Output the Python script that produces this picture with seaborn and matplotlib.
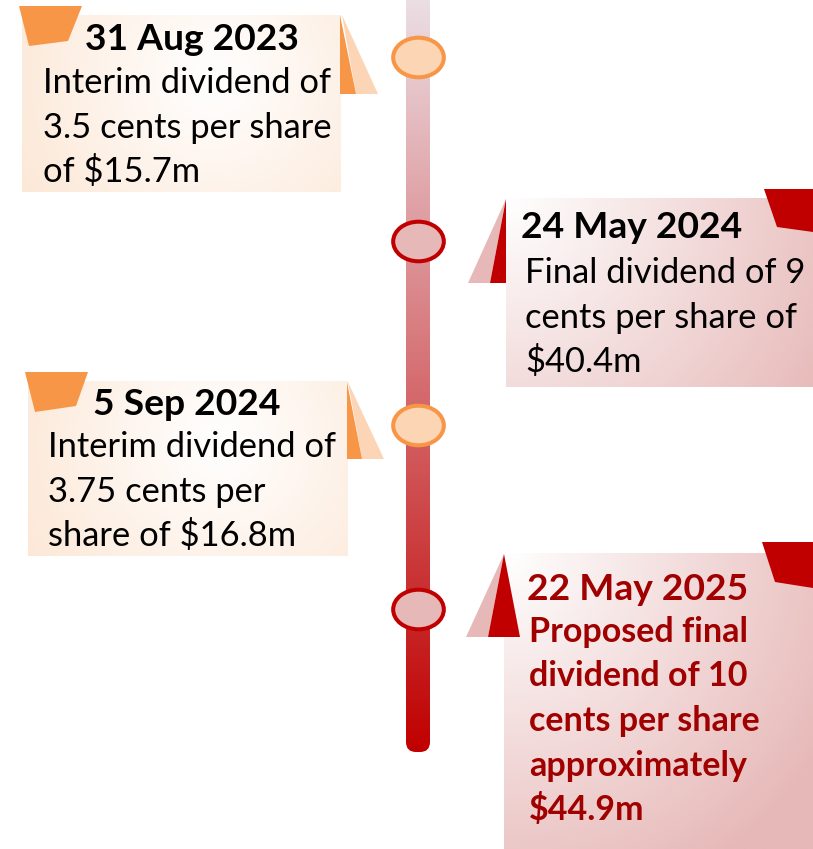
import numpy as np
import pandas as pd
import matplotlib
matplotlib.use("Agg")
import matplotlib.pyplot as plt
from matplotlib.path import Path
from matplotlib.transforms import Affine2D
from matplotlib.patches import Polygon, FancyBboxPatch
import seaborn as sns

# ---------------- data ----------------
dates = ["31 Aug 2023", "24 May 2024", "5 Sep 2024", "22 May 2025"]
kinds = ["interim", "final", "interim", "final"]
body_lines = [
    ["Interim dividend of", "3.5 cents per share", "of $15.7m"],
    ["Final dividend of 9", "cents per share of", "$40.4m"],
    ["Interim dividend of", "3.75 cents per", "share of $16.8m"],
    ["Proposed final", "dividend of 10", "cents per share", "approximately", "$44.9m"],
]
events = pd.DataFrame({"date": dates, "kind": kinds, "order": range(len(dates))})

# ---------------- style ----------------
sns.set_theme(style="white")
plt.rcParams["font.family"] = ["Lato", "DejaVu Sans"]

W, H = 813, 849
fig = plt.figure(figsize=(W / 100, H / 100), dpi=100)
ax = fig.add_axes([0, 0, 1, 1])
ax.set_xlim(0, W)
ax.set_ylim(H, 0)
ax.axis("off")

ORANGE = "#f79646"
ORANGE_LIGHT = "#fbd5b5"
ORANGE_FACE = "#fcd5b4"
RED = "#c00000"
RED_LIGHT = "#e6b9b8"
DARK_RED = "#a00000"

# ---------------- timeline bar ----------------
bar_x0, bar_x1, bar_bot = 406, 430, 752
n = 256
top_c = np.array([236, 228, 234]) / 255
bot_c = np.array([192, 0, 0]) / 255
t = np.linspace(0, 1, n)[:, None]
grad = (top_c * (1 - t) + bot_c * t)[:, None, :]
im = ax.imshow(grad, extent=[bar_x0, bar_x1, bar_bot, -20], aspect="auto",
               interpolation="bilinear", zorder=1)
clip = FancyBboxPatch((bar_x0, -40), bar_x1 - bar_x0, bar_bot + 40,
                      boxstyle="round,pad=0,rounding_size=10",
                      transform=ax.transData, facecolor="none", edgecolor="none")
ax.add_patch(clip)
im.set_clip_path(clip)


# ---------------- boxes ----------------
def gradient_box(x0, y0, x1, y1, edge_rgb, center, radius, z=2):
    ny, nx = 120, 160
    yy, xx = np.mgrid[0:1:ny * 1j, 0:1:nx * 1j]
    d = np.sqrt(((xx - center[0]) * (x1 - x0)) ** 2 + ((yy - center[1]) * (y1 - y0)) ** 2)
    d = np.clip(d / radius, 0, 1)[..., None]
    c = np.array([1.0, 1.0, 1.0]) * (1 - d) + np.array(edge_rgb) / 255 * d
    ax.imshow(c, extent=[x0, x1, y1, y0], aspect="auto", interpolation="bilinear", zorder=z)


boxes = [
    (22, 15, 340, 192),
    (506, 198, 813, 387),
    (28, 381, 347, 556),
    (504, 553, 813, 849),
]
for (x0, y0, x1, y1), k in zip(boxes, kinds):
    if k == "interim":
        gradient_box(x0, y0, x1, y1, (252, 228, 208), (0.6, 0.35), 260)
    else:
        gradient_box(x0, y0, x1, y1, (230, 184, 183), (0.0, 0.0), 380)


def poly(pts, color, z=3):
    ax.add_patch(Polygon(pts, closed=True, facecolor=color, edgecolor="none", zorder=z))

# box 1 (orange)
poly([(19, 6), (82, 6), (68, 41), (29, 46)], ORANGE, 4)
poly([(342, 15), (378, 94), (356, 94)], ORANGE_LIGHT)
poly([(340, 15), (356, 94), (340, 94)], ORANGE)
# box 3 (orange)
poly([(25, 372), (88, 372), (76, 406), (35, 412)], ORANGE, 4)
poly([(348, 382), (384, 459), (362, 459)], ORANGE_LIGHT)
poly([(347, 382), (362, 459), (347, 459)], ORANGE)
# box 2 (red)
poly([(764, 189), (813, 189), (813, 232), (777, 227)], RED, 4)
poly([(506, 199), (468, 283), (490, 283)], RED_LIGHT)
poly([(506, 199), (490, 283), (506, 283)], RED)
# box 4 (red)
poly([(762, 542), (813, 542), (813, 588), (775, 582)], RED, 4)
poly([(504, 554), (466, 637), (488, 637)], RED_LIGHT)
poly([(504, 554), (488, 637), (520, 637)], RED, 4)

# ---------------- event markers ----------------
events["x"] = (bar_x0 + bar_x1) / 2
events["y"] = 57 + 184 * events["order"]
ell = Path.unit_circle().transformed(Affine2D().scale(1.28, 1.0))
face_pal = {"interim": ORANGE_FACE, "final": RED_LIGHT}
edge_pal = {"interim": ORANGE, "final": RED}
for k in ["interim", "final"]:
    sub = events[events["kind"] == k]
    sns.scatterplot(data=sub, x="x", y="y", ax=ax, marker=ell, s=1330,
                    color=face_pal[k], edgecolor=edge_pal[k], linewidth=2.9,
                    zorder=5, legend=False)
ax.set_xlim(0, W)
ax.set_ylim(H, 0)
ax.axis("off")

# ---------------- text ----------------
date_fs = 26.8
body_fs = 24.8
line_gap = 44.5
date_pos = [(192, 50, "center"), (521, 238, "left"), (187, 415, "center"), (527, 600, "left")]
body_pos = [(43, 93), (525, 283), (48, 457), (529, 642)]
for i, k in enumerate(kinds):
    final_prop = i == 3
    col = DARK_RED if final_prop else "black"
    dx, dy, ha = date_pos[i]
    ax.text(dx, dy, dates[i], ha=ha, va="baseline", fontsize=date_fs,
            fontweight="bold", color=col, zorder=6)
    bx, by = body_pos[i]
    for j, line in enumerate(body_lines[i]):
        ax.text(bx, by + j * line_gap, line, ha="left", va="baseline",
                fontsize=body_fs if not final_prop else body_fs - 0.3,
                fontweight="bold" if final_prop else "normal",
                color=col, zorder=6)

fig.savefig("out.png", dpi=100)
